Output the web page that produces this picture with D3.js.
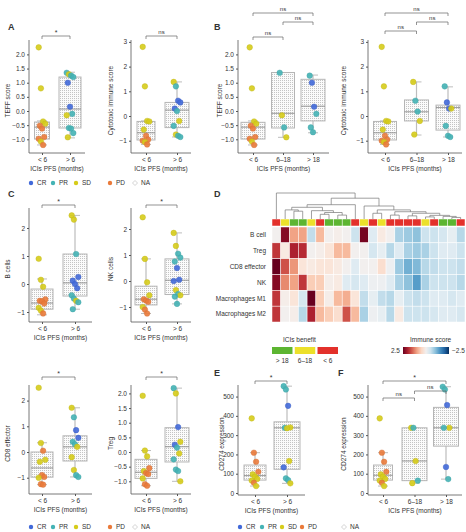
<!DOCTYPE html>
<html><head><meta charset="utf-8">
<script src="https://cdn.jsdelivr.net/npm/d3@7"></script>
<style>
body{margin:0;background:#fff}
text{font-family:"Liberation Sans",Arial,sans-serif;fill:#333}
</style></head>
<body><svg id="c" width="466" height="532"></svg>
<script>
// ---------------- DATA ----------------
const respLevels = ["CR","PR","SD","PD","NA"];
const respColors = ["#4169d9","#44b3b5","#d6cc1a","#ea7a3a","#c8c8c8"];
const pfs2 = ["< 6","> 6"];
const pfs3 = ["< 6","6–18","> 18"];
const yTicksDec = [-1,-0.5,0,0.5,1,1.5,2];
const yTicksInt3 = [-1,0,1,2,3];
const yTicksInt2 = [-1,0,1,2];
const yTicksExpr = [0,100,200,300,400,500];

// TEFF score (2 groups)
const teff2Vals = [[2.25,0.8,-0.37,-0.45,-0.52,-0.62,-0.92,-0.98,-1.08,-1.2],[1.35,1.3,1.25,1.2,1.0,0.15,-0.1,-0.15,-0.6,-0.62,-0.78,-0.93]];
const teff2Resp = [["SD","SD","SD","SD","PD","PD","PD","PD","SD","PD"],["PR","SD","PR","PR","CR","CR","PR","SD","PR","PR","PR","SD"]];
const teff2Box = [[-1.2,-0.99,-0.57,-0.39,-0.35],[-0.95,-0.6,0.07,1.2,1.37]];
// Cytotoxic immune score (2 groups)
const cyto2Vals = [[2.8,1.2,-0.2,-0.22,-0.55,-0.8,-0.95,-1.0,-1.05,-1.15],[1.38,1.2,0.62,0.55,0.3,0.2,-0.2,-0.4,-0.75,-0.8,-0.85]];
const cyto2Resp = [["SD","SD","SD","SD","SD","PD","PD","PD","SD","PD"],["SD","PR","CR","CR","CR","PR","SD","PR","SD","PR","PR"]];
const cyto2Box = [[-1.15,-0.97,-0.68,-0.22,-0.2],[-0.85,-0.47,0.24,0.55,1.38]];
// TEFF score (3 groups)
const teff3Vals = [teff2Vals[0],[1.35,-0.15,-0.58,-0.93],[1.25,1.0,0.15,-0.1,-0.58,-0.75]];
const teff3Resp = [teff2Resp[0],["PR","SD","PR","SD"],["PR","CR","CR","PR","PR","PR"]];
const teff3Box = [[-1.2,-0.99,-0.57,-0.4,-0.35],[-0.93,-0.6,-0.08,1.36,1.36],[-0.77,-0.35,0.17,1.12,1.27]];
// Cytotoxic immune score (3 groups)
const cyto3Vals = [cyto2Vals[0],[1.38,0.62,0.18,-0.2,-0.75],[1.2,0.55,0.3,0.3,-0.4,-0.8,-0.85]];
const cyto3Resp = [cyto2Resp[0],["SD","PR","PR","SD","SD"],["PR","CR","CR","SD","PR","PR","PR"]];
const cyto3Box = [[-1.15,-0.97,-0.68,-0.22,-0.2],[-0.77,-0.2,0.17,0.65,1.38],[-0.85,-0.57,0.34,0.44,1.18]];
// B cells
const bcellVals = [[0.9,0.15,-0.1,-0.55,-0.6,-0.62,-0.7,-0.85,-0.95,-1.05],[2.45,2.3,1.07,0.25,0.12,0.0,-0.15,-0.4,-0.52,-0.6,-0.65,-0.9]];
const bcellResp = [["SD","SD","SD","PD","PD","PD","PD","SD","SD","PD"],["SD","SD","PR","CR","CR","CR","CR","PR","PR","SD","PR","PR"]];
const bcellBox = [[-1.1,-0.9,-0.68,-0.18,0.18],[-0.9,-0.43,0.04,1.07,2.45]];
// NK cells
const nkVals = [[2.45,0.85,-0.05,-0.55,-0.7,-0.75,-0.8,-1.0,-1.1,-1.25],[1.85,1.35,1.05,0.9,0.75,0.5,0.05,0.0,-0.35,-0.5,-0.55,-0.6,-0.88]];
const nkResp = [["SD","SD","SD","SD","PD","PD","PD","SD","PD","PD"],["SD","SD","PR","PR","PR","CR","CR","CR","SD","PR","SD","PR","PR"]];
const nkBox = [[-1.25,-0.92,-0.7,-0.2,0.85],[-0.88,-0.52,0.03,0.85,1.85]];
// CD8 effector
const cd8Vals = [[2.5,0.35,0.05,-0.3,-0.38,-0.9,-0.97,-1.0,-1.25,-1.27],[1.72,1.35,0.85,0.55,0.4,0.3,0.2,-0.2,-0.7,-0.9,-0.97]];
const cd8Resp = [["SD","SD","PD","SD","SD","PD","PD","SD","PD","PD"],["SD","PR","CR","CR","PR","PR","SD","SD","SD","PR","PR"]];
const cd8Box = [[-1.27,-0.98,-0.62,0.0,0.36],[-0.97,-0.35,0.2,0.63,1.72]];
// Treg
const tregVals = [[1.92,0.05,-0.15,-0.55,-0.65,-0.72,-0.75,-0.9,-1.1,-1.15],[2.18,2.0,0.85,0.35,0.25,0.15,-0.05,-0.25,-0.6,-0.65,-1.0]];
const tregResp = [["SD","SD","SD","PD","SD","PD","PD","SD","PD","PD"],["PR","SD","CR","SD","CR","PR","SD","PR","PR","PR","SD"]];
const tregBox = [[-1.15,-0.9,-0.69,-0.25,0.05],[-1.0,-0.34,0.18,0.83,2.18]];
// CD274 expression (2 groups)
const pdl2Vals = [[387,209,162,110,97,85,73,65,53,36],[554,537,452,340,338,336,166,133,76,67,50]];
const pdl2Resp = [["SD","PD","PD","PD","SD","SD","SD","SD","PD","SD"],["PR","PR","CR","SD","PR","SD","SD","CR","PR","PR","SD"]];
const pdl2Box = [[36,67,90,145,209],[50,123,338,369,554]];
// CD274 expression (3 groups)
const pdl3Vals = [pdl2Vals[0],[338,338,166,64,51],[551,537,456,338,338,135,72]];
const pdl3Resp = [pdl2Resp[0],["SD","PR","SD","PR","SD"],["PR","PR","CR","SD","PR","CR","PR"]];
const pdl3Box = [[36,67,92,145,209],[51,64,166,338,338],[72,243,338,444,551]];

// Heatmap (panel D)
const heatRows = ["B cell","Treg","CD8 effector","NK","Macrophages M1","Macrophages M2"];
const benefitLevels = ["> 18","6–18","< 6"];
const benefitColors = ["#5cb531","#ece02a","#e3312b"];
const heatBenefit = ["< 6","6–18","> 18","> 18","6–18","< 6","> 18","> 18","> 18","< 6","6–18","< 6","6–18","< 6","< 6","< 6","< 6","6–18","< 6","> 18","> 18","< 6"];
const heatValues = [
 [0.0, 2.3, 1.0, 1.0,-0.6, 0.8, 0.0, 0.1, 0.0,-0.5, 2.4,-0.3, 0.2, 0.0,-0.8,-0.9,-1.0,-0.5,-0.5,-0.4,-0.2,-0.7],
 [1.8, 0.2, 2.0, 1.9, 0.0, 0.1, 0.3, 0.8, 0.8, 0.0, 0.0,-0.4,-0.2,-0.7,-0.3,-0.8,-0.9,-0.8,-0.5,-0.3,-0.3,-0.5],
 [2.5, 1.6, 1.1, 0.3, 0.2, 0.3, 0.3, 0.2, 0.0,-0.3, 0.0, 0.0, 0.4,-0.1,-0.9,-1.2,-1.1,-0.7,-0.6,-0.5,-0.5,-0.6],
 [2.3, 1.2, 1.0, 1.8, 0.6, 0.6, 0.1, 0.2,-0.3,-0.4,-0.3,-0.1,-0.1,-0.3,-0.8,-1.0,-1.4,-0.8,-0.5,-0.5,-0.5,-0.7],
 [1.8, 0.1, 0.3,-0.4, 2.6, 0.6, 0.1, 0.8, 0.9, 0.3,-0.6,-0.2,-0.6,-0.7,-0.2,-0.5,-0.6,-0.5,-0.3,-0.3,-0.4,-0.3],
 [1.8, 0.0, 0.1,-0.7, 2.0, 0.8, 0.6, 0.4, 1.6, 0.8,-0.8,-0.1,-0.2,-0.7, 0.2,-0.5,-0.5,-0.5,-0.4,-0.3,-0.3,-0.4]
];
// column dendrogram: [height, left, right]; leaves = column index
const colTree = [1.0, 0,
  [0.8,
    [0.55,
      [0.45, [0.35, 1, [0.3, 2, 3]], [0.32, 4, [0.25, [0.18, 5, 6], [0.15, 7, 8]]]],
      9],
    [0.5, 10,
      [0.35, [0.22, 11, 12],
        [0.28, [0.15, 13, 14],
          [0.22, [0.12, 15, 16], [0.14, [0.08, 17, 18], [0.1, 19, [0.06, 20, 21]]]]]]]]];
const heatLegendTicks = ["2.5","−2.5"];

// ---------------- DRAW ----------------
const svg = d3.select("#c");
const defs = svg.append("defs");
const pat = defs.append("pattern").attr("id","dots").attr("width",2).attr("height",2).attr("patternUnits","userSpaceOnUse");
pat.append("rect").attr("width",2).attr("height",2).attr("fill","#fbfbfb");
pat.append("rect").attr("width",1).attr("height",1).attr("fill","#c4c4c4");

const color = d3.scaleOrdinal().domain(respLevels).range(respColors);

function boxPanel(cfg, groups, vals, resps, boxes, comps){
  const g = svg.append("g");
  const x = d3.scalePoint().domain(groups).range(cfg.cat);
  const y = d3.scaleLinear().domain(cfg.dom).range([cfg.bottom, cfg.top]);
  const ya = g.append("g").attr("transform",`translate(${cfg.ax},0)`)
    .call(d3.axisLeft(y).tickValues(cfg.ticks).tickFormat(d3.format(cfg.fmt)).tickSize(2).tickPadding(2).tickSizeOuter(0));
  ya.select(".domain").remove();
  ya.append("line").attr("x1",0).attr("x2",0).attr("y1",cfg.top).attr("y2",cfg.bottom).attr("stroke","#555").attr("stroke-width",0.8);
  ya.selectAll(".tick line").attr("stroke","#555");
  ya.selectAll("text").attr("font-size",6.5).attr("fill","#444");
  const xa = g.append("g").attr("transform",`translate(0,${cfg.bottom})`)
    .call(d3.axisBottom(x).tickSize(2).tickPadding(2).tickSizeOuter(0));
  xa.select(".domain").remove();
  xa.append("line").attr("x1",cfg.ax).attr("x2",cfg.axEnd).attr("stroke","#555").attr("stroke-width",0.8);
  xa.selectAll(".tick line").attr("stroke","#555");
  xa.selectAll("text").attr("font-size",6.5).attr("fill","#444");
  g.append("text").attr("x",(cfg.ax+cfg.axEnd)/2).attr("y",cfg.bottom+18).attr("text-anchor","middle").attr("font-size",6.5).text("ICIs PFS (months)");
  g.append("text").attr("transform",`translate(${cfg.labX},${(cfg.top+cfg.bottom)/2+4}) rotate(-90)`).attr("text-anchor","middle").attr("font-size",6.5).text(cfg.ylab);
  groups.forEach((gr,i)=>{
    const b = boxes[i], cx = x(gr), w = cfg.bw[i];
    g.append("line").attr("x1",cx).attr("x2",cx).attr("y1",y(b[0])).attr("y2",y(b[4])).attr("stroke","#bdbdbd").attr("stroke-width",1.2);
    [b[0],b[4]].forEach(v=>g.append("line").attr("x1",cx-5).attr("x2",cx+5).attr("y1",y(v)).attr("y2",y(v)).attr("stroke","#bdbdbd").attr("stroke-width",1));
    g.append("rect").attr("x",cx-w/2).attr("width",w).attr("y",y(b[3])).attr("height",y(b[1])-y(b[3]))
      .attr("fill","url(#dots)").attr("stroke","#b5b5b5").attr("stroke-width",1);
    g.append("line").attr("x1",cx-w/2).attr("x2",cx+w/2).attr("y1",y(b[2])).attr("y2",y(b[2])).attr("stroke","#8a8a8a").attr("stroke-width",0.9);
  });
  groups.forEach((gr,i)=>{
    vals[i].forEach((v,j)=>{
      const jit = ((j*37)%7 - 3)*1.1;
      g.append("circle").attr("cx",x(gr)+jit).attr("cy",y(v)).attr("r",2.8)
        .attr("fill",color(resps[i][j])).attr("fill-opacity",0.9).attr("stroke",d3.color(color(resps[i][j])).darker(0.3)).attr("stroke-width",0.4);
    });
  });
  comps.forEach((c,k)=>{
    const by = cfg.brY[k], x1 = x(c[0]), x2 = x(c[1]);
    g.append("path").attr("d",`M${x1},${by+3}V${by}H${x2}V${by+3}`).attr("fill","none").attr("stroke","#666").attr("stroke-width",0.7);
    g.append("text").attr("x",(x1+x2)/2).attr("y",c[2]==="*"?by-1:by-2.5).attr("text-anchor","middle")
      .attr("font-size",c[2]==="*"?7:6).text(c[2]);
  });
}

const panelA1 = {ax:29,axEnd:85,cat:[42,70],top:40,bottom:153,dom:[-1.484,2.509],ticks:yTicksDec,fmt:".1f",bw:[15,22],labX:10,ylab:"TEFF score",brY:[36]};
const panelA2 = {ax:131,axEnd:191,cat:[146,177],top:40,bottom:153,dom:[-1.498,3.077],ticks:yTicksInt3,fmt:"d",bw:[18,24],labX:113,ylab:"Cytotoxic immune score",brY:[36]};
const panelB1 = {ax:238,axEnd:329,cat:[253,313],top:40,bottom:153,dom:[-1.484,2.509],ticks:yTicksDec,fmt:".1f",bw:[24,23,24],labX:222,ylab:"TEFF score",brY:[13,22,37]};
const panelB2 = {ax:368,axEnd:462,cat:[385,448],top:40,bottom:153,dom:[-1.498,3.077],ticks:yTicksInt3,fmt:"d",bw:[23,24,24],labX:346,ylab:"Cytotoxic immune score",brY:[13,22,31]};
const panelC1 = {ax:29,axEnd:92,cat:[42,75],top:208,bottom:322,dom:[-1.357,2.714],ticks:yTicksInt2,fmt:"d",bw:[22,24],labX:10,ylab:"B cells",brY:[205]};
const panelC2 = {ax:131,axEnd:191,cat:[146,177],top:208,bottom:322,dom:[-1.577,2.808],ticks:yTicksInt2,fmt:"d",bw:[22,24],labX:113,ylab:"NK cells",brY:[205]};
const panelC3 = {ax:29,axEnd:92,cat:[42,75],top:385,bottom:494,dom:[-1.634,2.607],ticks:yTicksInt2,fmt:"d",bw:[22,24],labX:10,ylab:"CD8 effector",brY:[377]};
const panelC4 = {ax:131,axEnd:191,cat:[146,177],top:385,bottom:494,dom:[-1.433,2.287],ticks:yTicksDec,fmt:".1f",bw:[22,24],labX:113,ylab:"Treg",brY:[377]};
const panelE = {ax:238,axEnd:305,cat:[255,287],top:385,bottom:495,dom:[-10.4,560],ticks:yTicksExpr,fmt:"d",bw:[22,26],labX:224,ylab:"CD274 expression",brY:[381]};
const panelF = {ax:368,axEnd:462,cat:[383,446],top:385,bottom:495,dom:[-10.4,560],ticks:yTicksExpr,fmt:"d",bw:[19,25,25],labX:346,ylab:"CD274 expression",brY:[381,398,391]};

boxPanel(panelA1, pfs2, teff2Vals, teff2Resp, teff2Box, [["< 6","> 6","*"]]);
boxPanel(panelA2, pfs2, cyto2Vals, cyto2Resp, cyto2Box, [["< 6","> 6","ns"]]);
boxPanel(panelB1, pfs3, teff3Vals, teff3Resp, teff3Box, [["< 6","> 18","ns"],["6–18","> 18","ns"],["< 6","6–18","ns"]]);
boxPanel(panelB2, pfs3, cyto3Vals, cyto3Resp, cyto3Box, [["< 6","> 18","ns"],["6–18","> 18","ns"],["< 6","6–18","ns"]]);
boxPanel(panelC1, pfs2, bcellVals, bcellResp, bcellBox, [["< 6","> 6","*"]]);
boxPanel(panelC2, pfs2, nkVals, nkResp, nkBox, [["< 6","> 6","*"]]);
boxPanel(panelC3, pfs2, cd8Vals, cd8Resp, cd8Box, [["< 6","> 6","*"]]);
boxPanel(panelC4, pfs2, tregVals, tregResp, tregBox, [["< 6","> 6","*"]]);
boxPanel(panelE, pfs2, pdl2Vals, pdl2Resp, pdl2Box, [["< 6","> 6","*"]]);
boxPanel(panelF, pfs3, pdl3Vals, pdl3Resp, pdl3Box, [["< 6","> 18","*"],["< 6","6–18","ns"],["6–18","> 18","ns"]]);

function respLegend(x0, y0, xs){
  respLevels.forEach((r,i)=>{
    const gx = x0 + xs[i];
    if(r==="NA"){
      svg.append("path").attr("d",`M${gx-2.5},${y0}L${gx},${y0-2.5}L${gx+2.5},${y0}L${gx},${y0+2.5}Z`).attr("fill","none").attr("stroke",color(r)).attr("stroke-width",0.8);
    } else {
      svg.append("circle").attr("cx",gx).attr("cy",y0).attr("r",2.2).attr("fill",color(r));
    }
    svg.append("text").attr("x",gx+6).attr("y",y0+2.3).attr("font-size",6.5).text(r);
  });
}
respLegend(31,183,[0,22,45,79,104]);
respLegend(31,527,[0,22,45,79,104]);
respLegend(240,527,[0,22,42,62,104]);

[["A",8,30],["B",214,30],["C",8,197],["D",214,197],["E",214,376],["F",338,376]].forEach(p=>{
  svg.append("text").attr("x",p[1]).attr("y",p[2]).attr("font-size",9).attr("font-weight","bold").attr("fill","#222").text(p[0]);
});

// ---------------- HEATMAP ----------------
const hx = d3.scaleBand().domain(d3.range(heatBenefit.length)).range([272,465]);
const hy = d3.scaleBand().domain(heatRows).range([227,322]);
const hcol = d3.scaleSequential(d3.interpolateRdBu).domain([2.5,-2.5]);
const hg = svg.append("g");
heatRows.forEach((r,i)=>{
  heatValues[i].forEach((v,j)=>{
    hg.append("rect").attr("x",hx(j)).attr("y",hy(r)).attr("width",hx.bandwidth()).attr("height",hy.bandwidth())
      .attr("fill",hcol(v)).attr("stroke","#fff").attr("stroke-width",0.5);
  });
  hg.append("text").attr("x",266).attr("y",hy(r)+hy.bandwidth()/2+2.3).attr("text-anchor","end").attr("font-size",6.5).text(r);
});
const bcol = d3.scaleOrdinal().domain(benefitLevels).range(benefitColors);
heatBenefit.forEach((b,j)=>{
  hg.append("rect").attr("x",hx(j)).attr("y",219).attr("width",hx.bandwidth()).attr("height",7).attr("fill",bcol(b)).attr("stroke","#fff").attr("stroke-width",0.5);
});
const root = d3.hierarchy(colTree, d => Array.isArray(d) ? [d[1], d[2]] : null);
const dy = d3.scaleLinear().domain([0,1]).range([219,193]);
function layout(n){
  if(!n.children){ n.px = hx(n.data)+hx.bandwidth()/2; n.py = dy(0); return; }
  n.children.forEach(layout);
  n.px = (n.children[0].px + n.children[1].px)/2;
  n.py = dy(n.data[0]);
}
layout(root);
root.each(n=>{
  if(!n.children) return;
  const [a,b] = n.children;
  hg.append("path").attr("d",`M${a.px},${a.py}V${n.py}H${b.px}V${b.py}`).attr("fill","none").attr("stroke","#777").attr("stroke-width",0.7);
});
hg.append("text").attr("x",283).attr("y",342).attr("font-size",6.5).text("ICIs benefit");
const lx = d3.scaleBand().domain(benefitLevels).range([272,338]).paddingInner(0.1);
benefitLevels.forEach(b=>{
  hg.append("rect").attr("x",lx(b)).attr("y",347).attr("width",lx.bandwidth()).attr("height",7).attr("fill",bcol(b));
  hg.append("text").attr("x",lx(b)+lx.bandwidth()/2).attr("y",363).attr("text-anchor","middle").attr("font-size",6.5).text(b);
});
hg.append("text").attr("x",410).attr("y",342).attr("font-size",6.5).text("Immune score");
const grad = defs.append("linearGradient").attr("id","hgrad");
d3.range(0,1.01,0.1).forEach(t=>grad.append("stop").attr("offset",t).attr("stop-color",hcol(2.5-5*t)));
hg.append("rect").attr("x",403).attr("y",347).attr("width",46).attr("height",7).attr("fill","url(#hgrad)");
hg.append("text").attr("x",400).attr("y",353).attr("text-anchor","end").attr("font-size",6.5).text(heatLegendTicks[0]);
hg.append("text").attr("x",452).attr("y",353).attr("font-size",6.5).text(heatLegendTicks[1]);
</script></body></html>
